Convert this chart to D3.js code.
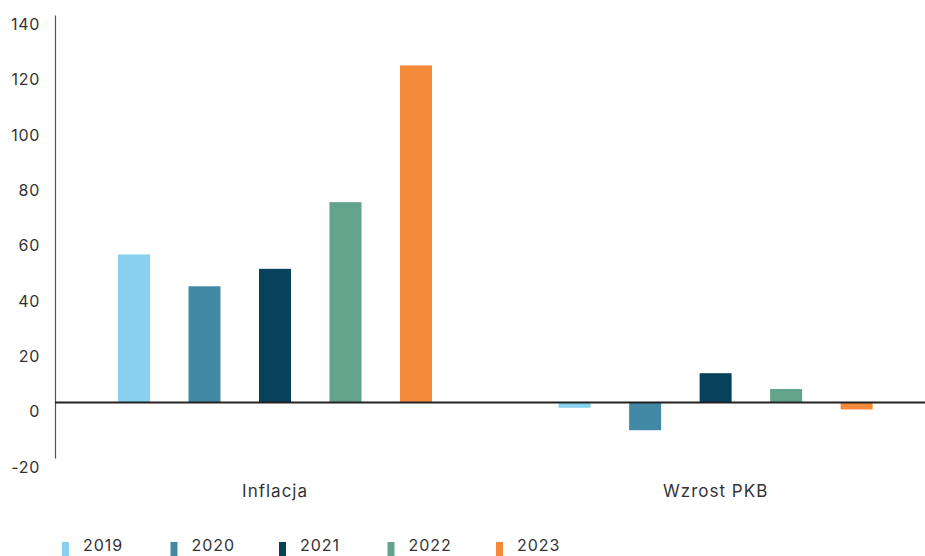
<!DOCTYPE html>
<html><head><meta charset="utf-8">
<script src="https://cdn.jsdelivr.net/npm/d3@7"></script>
<style>body{margin:0;background:#fff}svg{display:block}text{font-family:Inter,"Open Sans",sans-serif;fill:#333}</style>
</head><body><svg id="c" width="925" height="556"></svg>
<script>
const categories = ["Inflacja", "Wzrost PKB"];
const years = ["2019", "2020", "2021", "2022", "2023"];
const inflacja = [53.5, 42.0, 48.3, 72.4, 121.8];
const pkb = [-1.9, -10.0, 10.6, 4.9, -2.5];
const yTicks = [-20, 0, 20, 40, 60, 80, 100, 120, 140];
const colors = ["#87d1ee", "#4289a6", "#08415c", "#63a38b", "#f5893a"];

const series = [inflacja, pkb];
const svg = d3.select("#c");
const y = d3.scaleLinear().domain([-20, 140]).range([457.9, 15]);
const x0 = d3.scaleBand().domain(categories).range([54.75, 936]).padding(0);
const x1 = d3.scaleBand().domain(years).range([44, 396.5]).paddingInner(0.546).paddingOuter(0.273);

// y axis
const yAxis = d3.axisLeft(y).tickValues(yTicks).tickSize(0).tickPadding(15).tickFormat(d => String(d));
const ga = svg.append("g").attr("transform", "translate(55,0)").call(yAxis);
ga.select(".domain").attr("stroke", "#555").attr("stroke-width", 1.2);
ga.selectAll(".tick text").attr("font-size", 16).attr("fill", "#333").attr("dy", "0.9em")
  .attr("letter-spacing", 0.7)
  .style("font-family", "Inter, sans-serif");

// bars
categories.forEach((c, ci) => {
  const g = svg.append("g").attr("transform", `translate(${x0(c)},0)`);
  g.selectAll("rect").data(series[ci]).join("rect")
    .attr("x", (d, i) => x1(years[i]))
    .attr("width", x1.bandwidth())
    .attr("y", d => y(Math.max(0, d)))
    .attr("height", d => Math.abs(y(d) - y(0)))
    .attr("fill", (d, i) => colors[i]);
  svg.append("text").attr("x", x0(c) + x0.bandwidth() / 2).attr("y", 497)
    .attr("text-anchor", "middle").attr("font-size", 17).attr("letter-spacing", 1).text(c);
});

// zero line
svg.append("line").attr("x1", 55).attr("x2", 925).attr("y1", y(0)).attr("y2", y(0))
  .attr("stroke", "#222").attr("stroke-width", 2);

// legend
const lg = svg.append("g");
years.forEach((yr, i) => {
  const lx = 62 + i * 108.5;
  lg.append("rect").attr("x", lx).attr("y", 542).attr("width", 7).attr("height", 14).attr("fill", colors[i]);
  lg.append("text").attr("x", lx + 21).attr("y", 551).attr("font-size", 16).attr("letter-spacing", 1).text(yr);
});
</script></body></html>
